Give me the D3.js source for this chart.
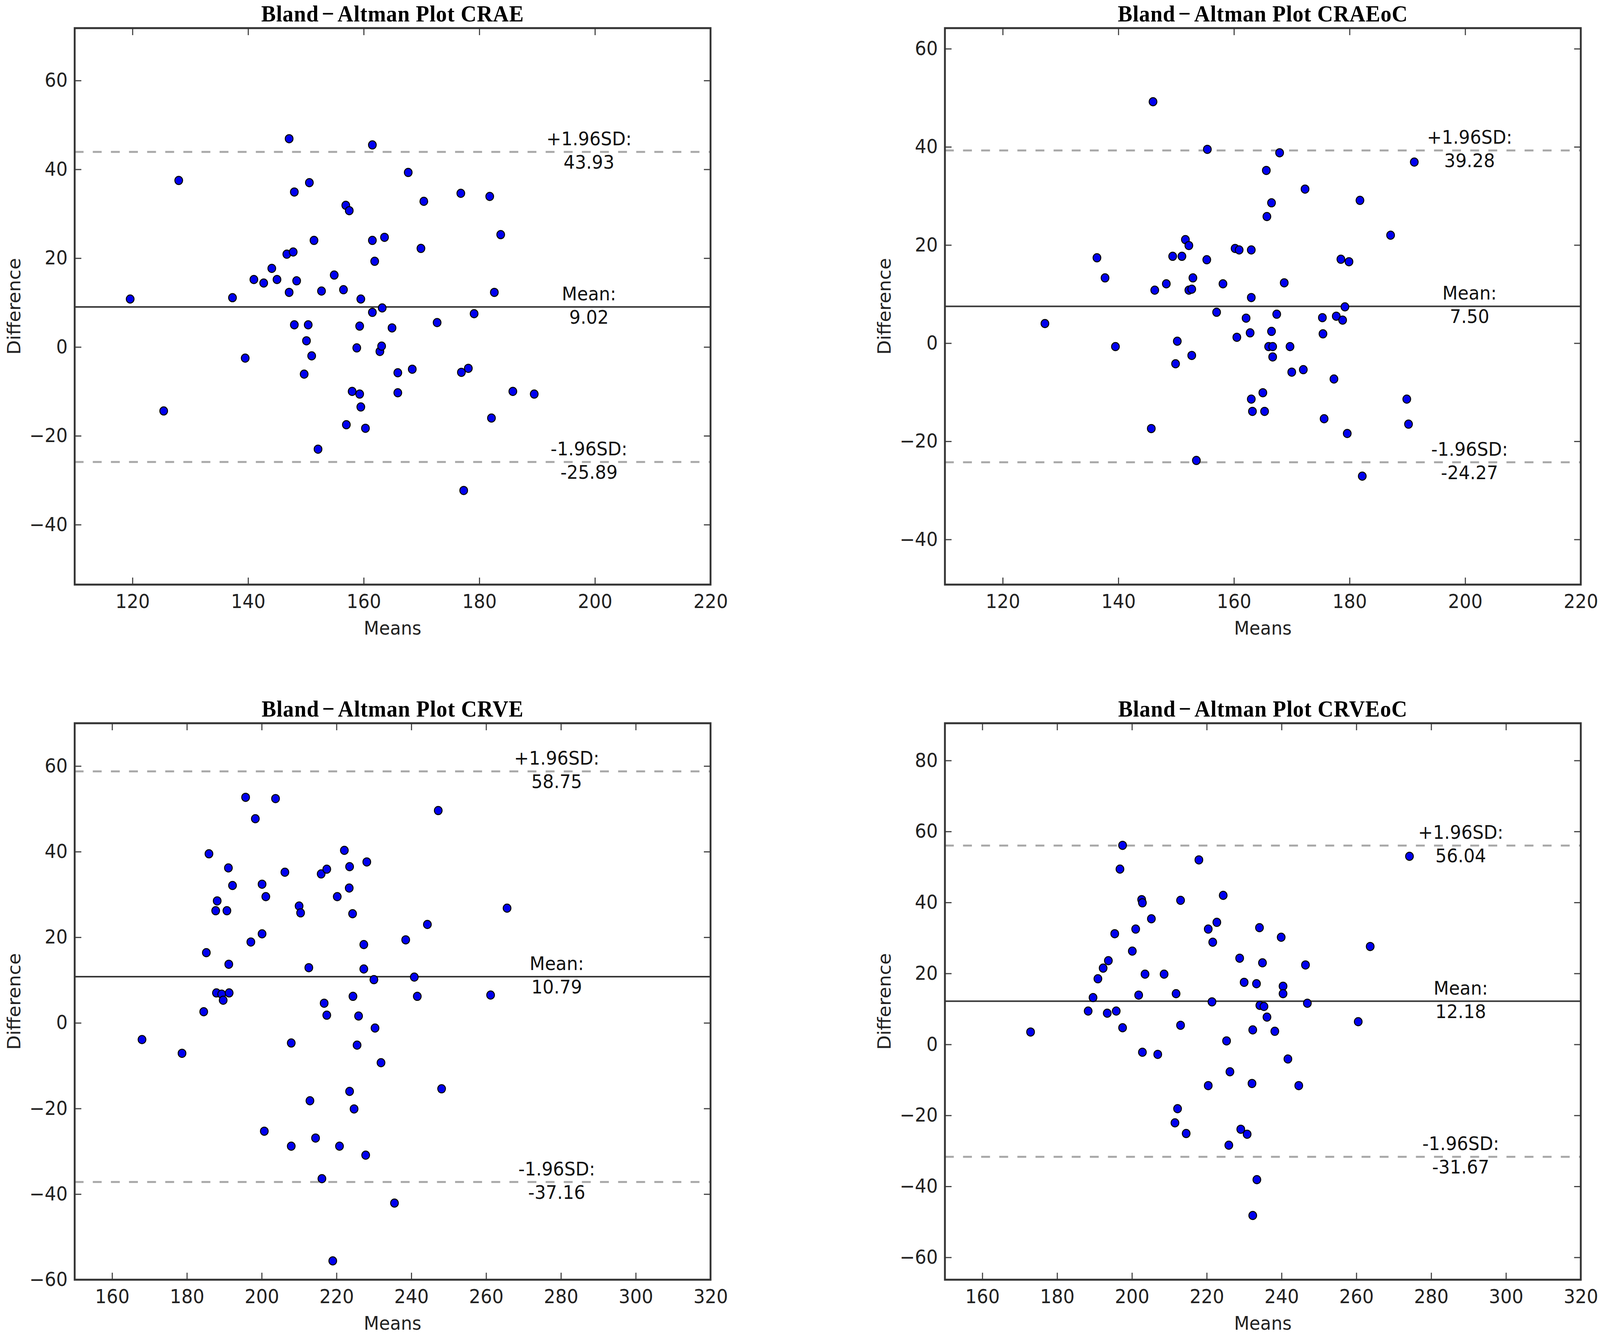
<!DOCTYPE html>
<html>
<head>
<meta charset="utf-8">
<script src="https://cdn.jsdelivr.net/npm/d3@7"></script>
<style>
    html, body { margin: 0; padding: 0; background: #fff; overflow: hidden; }
    svg { display: block; }
</style>
</head>
<body>
<div id="chart"></div>
<script>
"use strict";

// CRAE
const craeMeans = [119.6, 125.4, 128.0, 137.3, 139.5, 141.0, 142.7, 144.1, 145.0, 146.7,
    147.1, 147.1, 147.8, 148.0, 148.0, 148.4, 149.7, 150.1, 150.4, 150.6,
    151.0, 151.4, 152.1, 152.7, 154.9, 156.5, 156.9, 157.0, 157.5, 158.0,
    158.8, 159.3, 159.3, 159.5, 159.5, 160.3, 161.5, 161.5, 161.5, 161.9,
    162.8, 163.1, 163.2, 163.6, 164.9, 165.9, 165.9, 167.7, 168.4, 169.9,
    170.4, 172.7, 176.8, 176.9, 177.3, 178.1, 179.1, 181.8, 182.1, 182.6,
    183.7, 185.8, 189.5];
const craeDiffs = [10.8, -14.4, 37.5, 11.1, -2.5, 15.2, 14.4, 17.7, 15.2, 20.9,
    46.9, 12.3, 21.4, 34.9, 5.0, 14.9, -6.1, 1.4, 5.0, 37.0,
    -2.0, 24.0, -23.0, 12.6, 16.2, 12.9, 31.9, -17.5, 30.7, -10.0,
    -0.2, 4.7, -10.6, 10.8, -13.5, -18.3, 45.5, 24.0, 7.8, 19.3,
    -1.0, 0.2, 8.8, 24.7, 4.3, -5.8, -10.3, 39.3, -5.0, 22.2,
    32.8, 5.5, 34.6, -5.7, -32.3, -4.8, 7.5, 33.9, -16.0, 12.3,
    25.3, -10.0, -10.6];
const craeStats = [9.02, 43.93, -25.89]; // mean, +1.96SD, -1.96SD

// CRAEoC
const craeocMeans = [127.3, 136.3, 137.7, 139.5, 145.7, 146.0, 146.3, 148.3, 149.4, 149.9,
    150.2, 151.0, 151.6, 152.2, 152.2, 152.7, 152.9, 152.7, 153.5, 155.3,
    155.4, 157.0, 158.1, 160.2, 160.5, 160.9, 162.1, 162.8, 163.0, 163.0,
    163.0, 163.2, 165.0, 165.3, 165.6, 165.7, 166.0, 166.5, 166.5, 166.7,
    166.7, 167.4, 167.9, 168.7, 169.7, 170.0, 172.0, 172.3, 175.3, 175.4,
    175.6, 177.3, 177.7, 178.5, 178.8, 179.2, 179.6, 179.9, 181.8, 182.2,
    187.1, 189.9, 190.2, 191.2];
const craeocDiffs = [4.0, 17.4, 13.3, -0.7, -17.4, 49.2, 10.8, 12.1, 17.7, -4.2,
    0.4, 17.7, 21.1, 19.9, 10.8, 11.0, 13.3, -2.5, -23.9, 17.0,
    39.5, 6.3, 12.1, 19.3, 1.2, 19.0, 5.1, 2.1, 19.0, 9.3,
    -11.4, -13.9, -10.1, -13.9, 35.2, 25.8, -0.7, 2.4, 28.6, -0.7,
    -2.8, 5.9, 38.8, 12.3, -0.7, -5.9, -5.4, 31.4, 5.2, 1.9,
    -15.4, -7.3, 5.5, 17.1, 4.7, 7.4, -18.4, 16.6, 29.1, -27.1,
    22.0, -11.4, -16.5, 36.9];
const craeocStats = [7.50, 39.28, -24.27];

// CRVE
const crveMeans = [168.0, 178.7, 184.5, 185.2, 185.9, 187.7, 187.9, 188.1, 189.3, 189.7,
    190.7, 191.1, 191.2, 191.3, 192.2, 195.7, 197.1, 198.3, 200.1, 200.1,
    200.7, 201.1, 203.7, 206.2, 207.9, 207.9, 210.0, 210.4, 212.6, 212.9,
    214.4, 215.9, 216.1, 216.7, 217.4, 217.4, 219.0, 220.2, 220.8, 222.1,
    223.4, 223.5, 223.5, 224.3, 224.4, 224.7, 225.5, 225.9, 227.3, 227.3,
    227.8, 228.1, 230.0, 230.3, 231.9, 235.5, 238.5, 240.8, 241.6, 244.3,
    247.2, 248.1, 261.2, 265.6];
const crveDiffs = [-3.9, -7.1, 2.6, 16.4, 39.5, 26.2, 7.0, 28.5, 6.7, 5.3,
    26.2, 36.2, 13.7, 7.0, 32.1, 52.7, 18.9, 47.7, 32.4, 20.8,
    -25.3, 29.5, 52.4, 35.2, -4.7, -28.8, 27.3, 25.7, 12.9, -18.2,
    -26.9, 34.8, -36.4, 4.6, 35.9, 1.8, -55.6, 29.5, -28.8, 40.3,
    31.5, 36.5, -16.0, 25.5, 6.2, -20.1, -5.2, 1.6, 18.3, 12.6,
    -30.9, 37.6, 10.1, -1.2, -9.3, -42.1, 19.4, 10.7, 6.2, 23.0,
    49.6, -15.4, 6.5, 26.8];
const crveStats = [10.79, 58.75, -37.16];

// CRVEoC
const crveocMeans = [172.9, 188.3, 189.6, 190.9, 192.3, 193.4, 193.7, 195.4, 195.8, 196.8,
    197.5, 197.5, 200.1, 201.0, 201.8, 202.6, 202.8, 202.8, 203.5, 205.2,
    206.9, 208.6, 211.5, 211.8, 212.2, 213.0, 213.0, 214.5, 217.9, 220.4,
    220.4, 221.6, 221.4, 222.7, 224.4, 225.3, 225.9, 226.2, 228.8, 229.1,
    230.0, 230.8, 232.1, 232.3, 232.3, 233.3, 233.4, 234.1, 234.2, 234.9,
    235.3, 236.1, 238.2, 239.9, 240.4, 240.4, 241.7, 244.6, 246.4, 246.9,
    260.5, 263.7, 274.2];
const crveocDiffs = [3.5, 9.4, 13.2, 18.5, 21.5, 8.8, 23.6, 31.2, 9.4, 49.4,
    4.7, 56.1, 26.3, 32.5, 13.9, 40.8, 39.9, -2.2, 19.8, 35.4,
    -2.8, 19.8, -22.1, 14.3, -18.1, 40.6, 5.4, -25.1, 52.0, -11.6,
    32.5, 28.8, 12.0, 34.4, 42.0, 1.0, -28.4, -7.7, 24.3, -23.9,
    17.5, -25.3, -11.0, 4.1, -48.2, 17.1, -38.1, 32.9, 11.0, 23.0,
    10.7, 7.7, 3.7, 30.2, 16.4, 14.3, -4.1, -11.6, 22.4, 11.6,
    6.4, 27.6, 53.0];
const crveocStats = [12.18, 56.04, -31.67];

// axis limits and ticks
const arteryX = [110, 220];
const arteryXTicks = [120, 140, 160, 180, 200, 220];
const veinX = [150, 320];
const veinXTicks = [160, 180, 200, 220, 240, 260, 280, 300, 320];
const craeY = [-53.5, 71.8];
const craeocY = [-49.2, 64.2];
const crveY = [-60, 70];
const crveocY = [-66.3, 90.5];
const yTicksA = [-40, -20, 0, 20, 40, 60];
const yTicksV = [-60, -40, -20, 0, 20, 40, 60];
const yTicksVoC = [-60, -40, -20, 0, 20, 40, 60, 80];

(function () {
    const width = 4328;
    const height = 3416;
    const panelW = 1720;
    const panelH = 1425;
    const cols = [202, 2556];
    const rows = [72, 1852];
    const sans = "'DejaVu Sans', sans-serif";

    const panels = [
        { name: "CRAE", means: craeMeans, diffs: craeDiffs, stats: craeStats,
          xDom: arteryX, xTicks: arteryXTicks, yDom: craeY, yTicks: yTicksA, col: 0, row: 0 },
        { name: "CRAEoC", means: craeocMeans, diffs: craeocDiffs, stats: craeocStats,
          xDom: arteryX, xTicks: arteryXTicks, yDom: craeocY, yTicks: yTicksA, col: 1, row: 0 },
        { name: "CRVE", means: crveMeans, diffs: crveDiffs, stats: crveStats,
          xDom: veinX, xTicks: veinXTicks, yDom: crveY, yTicks: yTicksV, col: 0, row: 1 },
        { name: "CRVEoC", means: crveocMeans, diffs: crveocDiffs, stats: crveocStats,
          xDom: veinX, xTicks: veinXTicks, yDom: crveocY, yTicks: yTicksVoC, col: 1, row: 1 }
    ];

    // drawing is laid out on a 4328x3416 grid and stretched to fill the window
    const svg = d3.select("#chart")
        .append("svg")
        .attr("viewBox", `0 0 ${width} ${height}`)
        .attr("preserveAspectRatio", "none")
        .style("width", "100vw")
        .style("height", "100vh")
        .style("background", "#fff");

    function styleAxis(a) {
        a.select(".domain").remove();
        a.selectAll(".tick line").attr("stroke", "#444").attr("stroke-width", 3);
        a.selectAll(".tick text")
            .attr("fill", "#222")
            .style("font-family", sans)
            .style("font-size", "49px");
    }

    function statLabel(g, x, yPos, head, value) {
        const t = g.append("text")
            .attr("text-anchor", "middle")
            .attr("fill", "#111")
            .style("font-family", sans)
            .style("font-size", "48px");
        t.append("tspan").attr("x", x).attr("y", yPos - 17).text(head);
        t.append("tspan").attr("x", x).attr("y", yPos + 43).text(value.toFixed(2));
    }

    function drawPanel(p) {
        const g = svg.append("g")
            .attr("transform", `translate(${cols[p.col]},${rows[p.row]})`);

        const x = d3.scaleLinear().domain(p.xDom).range([0, panelW]);
        const y = d3.scaleLinear().domain(p.yDom).range([panelH, 0]);

        const [mean, upper, lower] = p.stats;

        // limits of agreement
        for (let v of [upper, lower]) {
            g.append("line")
                .attr("x1", 0).attr("x2", panelW)
                .attr("y1", y(v)).attr("y2", y(v))
                .attr("stroke", "#a8a8a8")
                .attr("stroke-width", 5)
                .attr("stroke-dasharray", "24,25");
        }
        g.append("line")
            .attr("x1", 0).attr("x2", panelW)
            .attr("y1", y(mean)).attr("y2", y(mean))
            .attr("stroke", "#383838")
            .attr("stroke-width", 4);

        g.selectAll("circle")
            .data(d3.zip(p.means, p.diffs))
            .enter()
            .append("circle")
            .attr("cx", d => x(d[0]))
            .attr("cy", d => y(d[1]))
            .attr("r", 10.5)
            .attr("fill", "#0000f0")
            .attr("stroke", "#000")
            .attr("stroke-width", 2.5);

        const lx = x(d3.max(p.means) * 1.05);
        statLabel(g, lx, y(mean), "Mean:", mean);
        statLabel(g, lx, y(upper), "+1.96SD:", upper);
        statLabel(g, lx, y(lower), "-1.96SD:", lower);

        // axes, ticks pointing inward on all four sides
        const fmt = d3.format("d");
        g.append("g")
            .attr("transform", `translate(0,${panelH})`)
            .call(d3.axisBottom(x).tickValues(p.xTicks).tickFormat(fmt)
                .tickSizeInner(-18).tickSizeOuter(0).tickPadding(25))
            .call(styleAxis);
        g.append("g")
            .call(d3.axisLeft(y).tickValues(p.yTicks).tickFormat(fmt)
                .tickSizeInner(-18).tickSizeOuter(0).tickPadding(19))
            .call(styleAxis);
        g.append("g")
            .call(d3.axisTop(x).tickValues(p.xTicks).tickFormat("")
                .tickSizeInner(-18).tickSizeOuter(0))
            .call(styleAxis);
        g.append("g")
            .attr("transform", `translate(${panelW},0)`)
            .call(d3.axisRight(y).tickValues(p.yTicks).tickFormat("")
                .tickSizeInner(-18).tickSizeOuter(0))
            .call(styleAxis);

        g.append("rect")
            .attr("width", panelW)
            .attr("height", panelH)
            .attr("fill", "none")
            .attr("stroke", "#333")
            .attr("stroke-width", 5);

        const title = g.append("text")
            .attr("x", panelW / 2)
            .attr("y", -17)
            .attr("text-anchor", "middle")
            .attr("fill", "#000")
            .style("font-family", "'Liberation Serif', 'Times New Roman', serif")
            .style("font-weight", "bold")
            .style("font-size", "59px")
            .style("letter-spacing", "1px");
        title.append("tspan").text("Bland");
        title.append("tspan").attr("dx", 8).text("−");
        title.append("tspan").attr("dx", 8).text(`Altman Plot ${p.name}`);

        g.append("text")
            .attr("x", panelW / 2)
            .attr("y", panelH + 128)
            .attr("text-anchor", "middle")
            .attr("fill", "#222")
            .style("font-family", sans)
            .style("font-size", "48px")
            .text("Means");

        g.append("text")
            .attr("transform", `translate(-147,${panelH / 2}) rotate(-90)`)
            .attr("text-anchor", "middle")
            .attr("fill", "#222")
            .style("font-family", sans)
            .style("font-size", "48px")
            .text("Difference");
    }

    panels.forEach(drawPanel);
})();
</script>
</body>
</html>
